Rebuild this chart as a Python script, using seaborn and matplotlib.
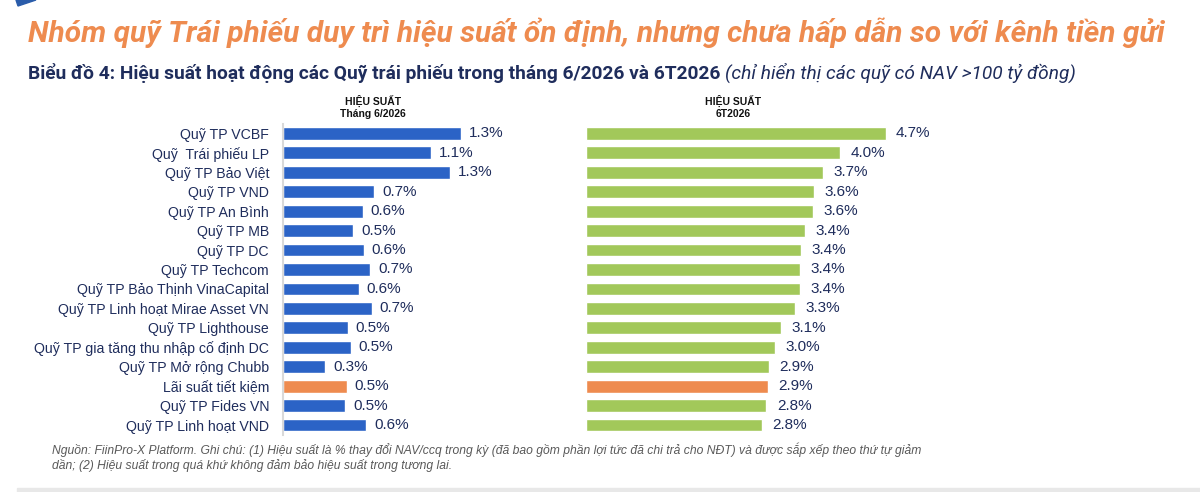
import pandas as pd
import matplotlib.pyplot as plt
import seaborn as sns
from matplotlib.patches import Polygon, Rectangle

# 数据
funds = ['Quỹ TP VCBF', 'Quỹ  Trái phiếu LP', 'Quỹ TP Bảo Việt', 'Quỹ TP VND',
         'Quỹ TP An Bình', 'Quỹ TP MB', 'Quỹ TP DC', 'Quỹ TP Techcom',
         'Quỹ TP Bảo Thịnh VinaCapital', 'Quỹ TP Linh hoạt Mirae Asset VN',
         'Quỹ TP Lighthouse', 'Quỹ TP gia tăng thu nhập cố định DC',
         'Quỹ TP Mở rộng Chubb', 'Lãi suất tiết kiệm', 'Quỹ TP Fides VN',
         'Quỹ TP Linh hoạt VND']
month_perf = [1.34, 1.12, 1.26, 0.69, 0.60, 0.53, 0.61, 0.66,
              0.57, 0.67, 0.49, 0.51, 0.32, 0.48, 0.47, 0.63]
ytd_perf = [4.70, 3.99, 3.72, 3.58, 3.56, 3.43, 3.37, 3.36,
            3.36, 3.28, 3.06, 2.96, 2.87, 2.86, 2.83, 2.76]
highlight = 'Lãi suất tiết kiệm'

df = pd.DataFrame({'fund': funds, 'month': month_perf, 'ytd': ytd_perf})

# 颜色
NAVY = '#1F2D5C'
BLUE = '#2B63C6'
GREEN = '#A2C85A'
ORANGE = '#EE8B4F'

sns.set_theme(style='white')
plt.rcParams['font.family'] = ['Liberation Sans', 'DejaVu Sans']

fig = plt.figure(figsize=(12, 4.92), dpi=100)
W, H = 1200, 492

def px_axes(x0, x1, y0, y1):
    return fig.add_axes([x0 / W, 1 - y1 / H, (x1 - x0) / W, (y1 - y0) / H])

ax1 = px_axes(283, 548, 123.6, 434.8)
ax2 = px_axes(585.7, 936.6, 123.6, 434.8)

panels = [(ax1, 'month', BLUE, 2.0), (ax2, 'ytd', GREEN, 5.5)]
for ax, col, base, xmax in panels:
    colors = [ORANGE if f == highlight else base for f in funds]
    sns.barplot(data=df, y='fund', x=col, hue='fund', palette=colors,
                legend=False, width=0.66, ax=ax, saturation=1)
    ax.set_xlim(0, xmax)
    ax.set_ylim(len(funds) - 0.5, -0.5)
    ax.set_xlabel('')
    ax.set_ylabel('')
    ax.set_xticks([])
    for s in ['top', 'right', 'bottom', 'left']:
        ax.spines[s].set_visible(False)
    for i, v in enumerate(df[col]):
        ax.text(v + xmax * 0.03, i, f'{v:.1f}%', va='center', ha='left',
                fontsize=11, color=NAVY)

ax1.spines['left'].set_visible(True)
ax1.spines['left'].set_color('#D9D9D9')
ax1.spines['left'].set_linewidth(1.5)
ax1.tick_params(axis='y', length=0, pad=10, labelsize=10.2, labelcolor=NAVY)
ax2.set_yticks([])

# 标题
fig.text(28 / W, 1 - 33 / H, 'Nhóm quỹ Trái phiếu duy trì hiệu suất ổn định, nhưng chưa hấp dẫn so với kênh tiền gửi',
         fontsize=21.5, fontweight='bold', fontstyle='italic', color=ORANGE,
         family=['Roboto', 'DejaVu Sans'], va='center', ha='left')

t = fig.text(28 / W, 1 - 73 / H, 'Biểu đồ 4: Hiệu suất hoạt động các Quỹ trái phiếu trong tháng 6/2026 và 6T2026 ',
             fontsize=13.8, fontweight='bold', color=NAVY, family=['Roboto', 'DejaVu Sans'],
             va='center', ha='left')
fig.canvas.draw()
bb = t.get_window_extent()
fig.text(bb.x1 / W, 1 - 73 / H, '(chỉ hiển thị các quỹ có NAV >100 tỷ đồng)',
         fontsize=13.8, fontstyle='italic', color=NAVY, family=['Roboto', 'DejaVu Sans'],
         va='center', ha='left')

fig.text(373 / W, 1 - 107 / H, 'HIỆU SUẤT\nTháng 6/2026', fontsize=7.5, fontweight='bold',
         color='#111111', ha='center', va='center', linespacing=1.3)
fig.text(733 / W, 1 - 107 / H, 'HIỆU SUẤT\n6T2026', fontsize=7.5, fontweight='bold',
         color='#111111', ha='center', va='center', linespacing=1.3)

# 注释
fig.text(52 / W, 1 - 450 / H,
         'Nguồn: FiinPro-X Platform. Ghi chú: (1) Hiệu suất là % thay đổi NAV/ccq trong kỳ (đã bao gồm phần lợi tức đã chi trả cho NĐT) và được sắp xếp theo thứ tự giảm',
         fontsize=8.7, fontstyle='italic', color='#595959', va='center', ha='left')
fig.text(52 / W, 1 - 466 / H, 'dần; (2) Hiệu suất trong quá khứ không đảm bảo hiệu suất trong tương lai.',
         fontsize=8.7, fontstyle='italic', color='#595959', va='center', ha='left')

# 装饰
fig.patches.append(Rectangle((17 / W, 0), 1, 4 / H, transform=fig.transFigure,
                             color='#E8E8E8', zorder=0))
fig.patches.append(Polygon([(16 / W, 1), (36 / W, 1), (18 / W, 1 - 6 / H)],
                           closed=True, transform=fig.transFigure, color='#2A5CAA'))

plt.savefig('out.png', dpi=100)
plt.close()
